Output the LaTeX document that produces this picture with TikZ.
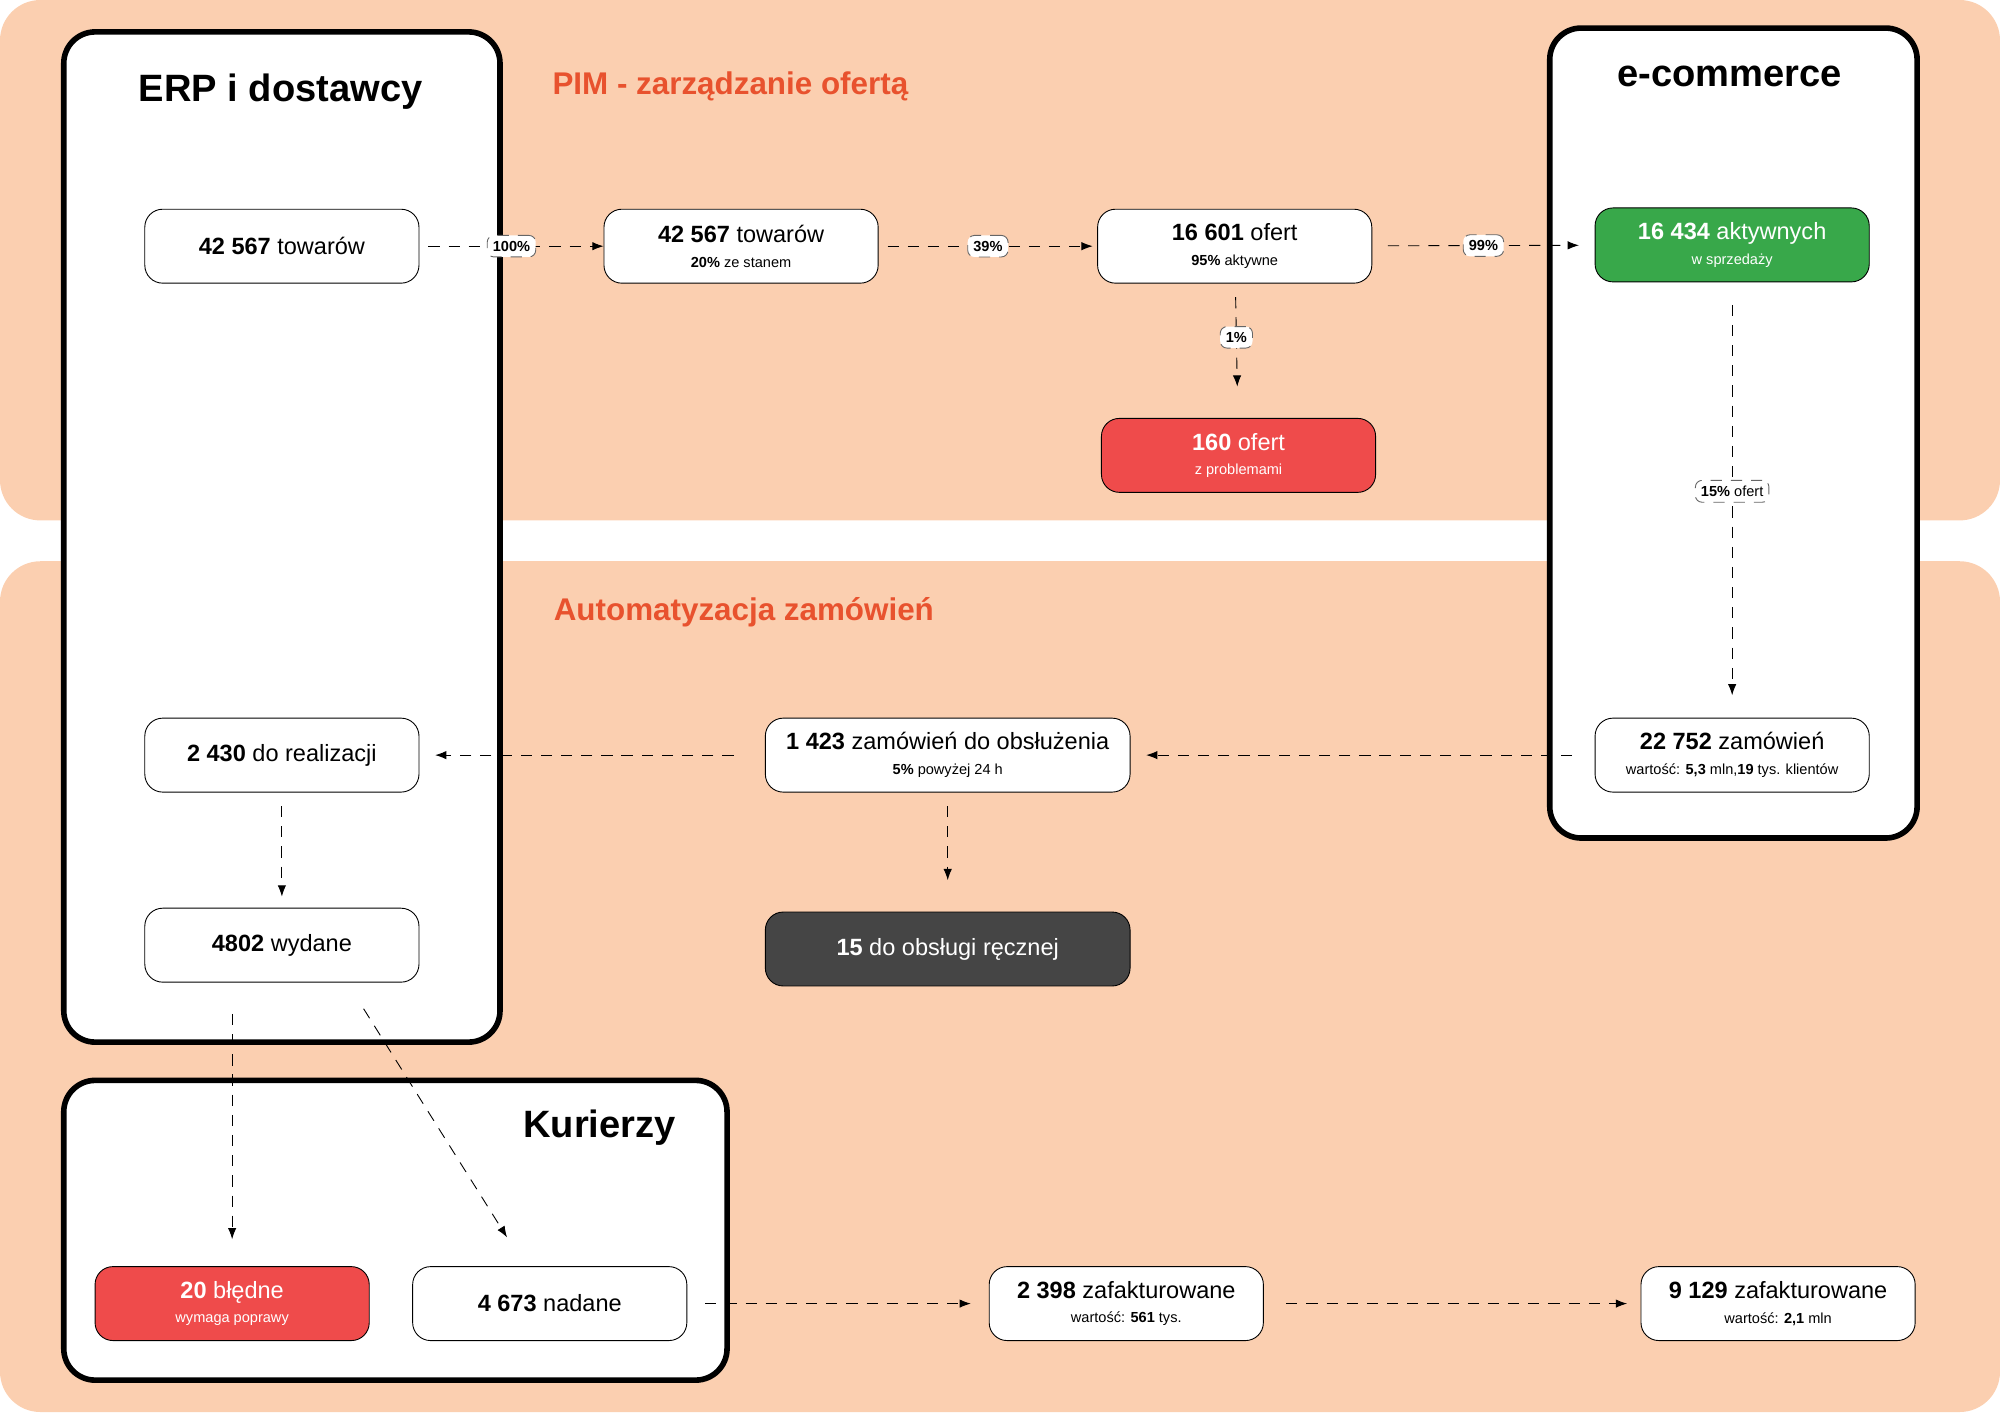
\documentclass[tikz,border=0pt]{standalone}
\usepackage{fontspec}
\setmainfont{Liberation Sans}
\usetikzlibrary{positioning,arrows.meta}
\definecolor{peach}{HTML}{FBCFB0}
\definecolor{titleorange}{HTML}{E8522E}
\definecolor{okgreen}{HTML}{38A84A}
\definecolor{errred}{HTML}{EF4B4B}
\definecolor{darkbox}{HTML}{454545}
\newcommand{\subtxt}{\fontsize{6.5}{8}\selectfont}
\begin{document}
\begin{tikzpicture}[x=0.02cm,y=-0.02cm,
    box/.style={draw=black, fill=white, rounded corners=8pt, minimum width=4.3cm, minimum height=1.16cm, align=center, font=\fontsize{10.5}{12}\selectfont, inner sep=1pt},
    wide/.style={box, minimum width=5.72cm},
    group/.style={draw=black, line width=2.5pt, fill=white, rounded corners=14pt},
    flow/.style={-{Latex[length=5pt]}, dash pattern=on 5pt off 4pt, thin},
    pct/.style={draw=black!60, fill=white, rounded corners=3pt, font=\fontsize{6.5}{7}\selectfont\bfseries, inner sep=2.5pt}
]
    % background panels
    \useasboundingbox (0,0) rectangle (1568,1107);
    \fill[peach, rounded corners=18pt] (0,0) rectangle (1568,408);
    \fill[peach, rounded corners=18pt] (0,440) rectangle (1568,1107);

    % group frames
    \draw[group] (50,25) rectangle (392,817);
    \draw[group] (1215,22) rectangle (1503,657);
    \draw[group] (50,847) rectangle (570,1082);
    \node[font=\fontsize{17}{20}\selectfont\bfseries] (erpT) at (220,72) {ERP i dostawcy};
    \node[font=\fontsize{17}{20}\selectfont\bfseries] (ecoT) at (1356,60) {e-commerce};
    \node[font=\fontsize{17}{20}\selectfont\bfseries] (kurT) at (470,884) {Kurierzy};
    \node[anchor=west, text=titleorange, font=\fontsize{14}{16}\selectfont\bfseries] (pimT) at (427,68) {PIM - zarządzanie ofertą};
    \node[anchor=west, text=titleorange, font=\fontsize{14}{16}\selectfont\bfseries] (autT) at (428,480) {Automatyzacja zamówień};

    % PIM row
    \node[box] (tow1) at (221,193) {\textbf{42 567} towarów};
    \node[box] (tow2) at (581,193) {\textbf{42 567} towarów\\[-1pt]{\subtxt\textbf{20\%} ze stanem}};
    \node[box] (ofe) at (968,193) {\textbf{16 601} ofert\\[-1pt]{\subtxt\textbf{95\%} aktywne}};
    \node[box, fill=okgreen, text=white] (akt) at (1358,192) {\textbf{16 434} aktywnych\\[-1pt]{\subtxt w sprzedaży}};
    \node[box, fill=errred, text=white] (prob) at (971,357) {\textbf{160} ofert\\[-1pt]{\subtxt z problemami}};

    % orders
    \node[box] (zam) at (1358,592) {\textbf{22 752} zamówień\\[-1pt]{\subtxt wartość: \textbf{5,3} mln,\textbf{19} tys. klientów}};
    \node[wide] (obs) at (743,592) {\textbf{1 423} zamówień do obsłużenia\\[-1pt]{\subtxt\textbf{5\%} powyżej 24 h}};
    \node[box] (real) at (221,592) {\textbf{2 430} do realizacji};
    \node[box] (wyd) at (221,741) {\textbf{4802} wydane};
    \node[wide, fill=darkbox, text=white] (rec) at (743,744) {\textbf{15} do obsługi ręcznej};

    % couriers and invoices
    \node[box, fill=errred, text=white] (bl) at (182,1022) {\textbf{20} błędne\\[-1pt]{\subtxt wymaga poprawy}};
    \node[box] (nad) at (431,1022) {\textbf{4 673} nadane};
    \node[box] (fak1) at (883,1022) {\textbf{2 398} zafakturowane\\[-1pt]{\subtxt wartość: \textbf{561} tys.}};
    \node[box] (fak2) at (1394,1022) {\textbf{9 129} zafakturowane\\[-1pt]{\subtxt wartość: \textbf{2,1} mln}};

    % connectors
    \draw[flow, shorten <=4pt] (tow1) -- node[pct] {100\%} (tow2);
    \draw[flow, shorten <=4pt, shorten >=2pt] (tow2) -- node[pct] {39\%} (ofe);
    \draw[flow, shorten <=7pt, shorten >=7pt] (ofe) -- node[pct] {99\%} (akt);
    \draw[flow, shorten <=6pt, shorten >=14pt] (ofe) -- node[pct, pos=0.4] {1\%} (prob);
    \draw[flow, shorten <=10pt, shorten >=10pt] (akt) -- node[pct, font=\fontsize{6.5}{7}\selectfont, pos=0.48] {\textbf{15\%} ofert} (zam);
    \draw[flow, shorten <=10pt, shorten >=7pt] (zam) -- (obs);
    \draw[flow, shorten <=14pt, shorten >=7pt] (obs) -- (real);
    \draw[flow, shorten <=6pt, shorten >=5pt] (real) -- (wyd);
    \draw[flow, shorten <=6pt, shorten >=14pt] (obs.south) -- (rec.north);
    \draw[flow, shorten <=14pt, shorten >=12pt] (wyd.south -| bl) -- (bl);
    \coordinate (diagS) at (272,770);
    \coordinate (diagE) at (405,982);
    \draw[flow, shorten <=14pt, shorten >=8pt] (diagS) -- (diagE);
    \draw[flow, shorten <=8pt, shorten >=8pt] (nad) -- (fak1);
    \draw[flow, shorten <=10pt, shorten >=6pt] (fak1) -- (fak2);
\end{tikzpicture}
\end{document}
